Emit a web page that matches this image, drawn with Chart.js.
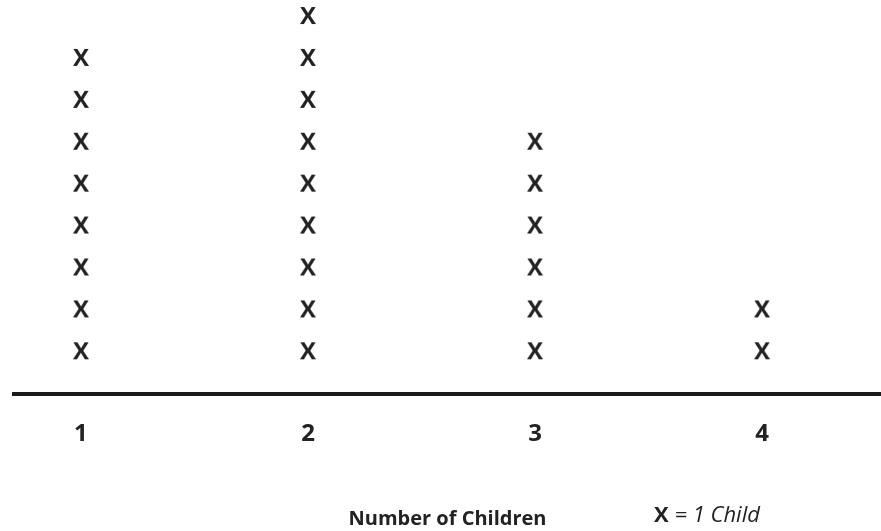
<!DOCTYPE html>
<html>
<head>
<meta charset="utf-8">
<script src="https://cdn.jsdelivr.net/npm/chart.js@4/dist/chart.umd.min.js"></script>
<style>
  html, body { margin: 0; padding: 0; background: #fff; }
  #wrap { width: 881px; height: 531px; position: relative; }
</style>
</head>
<body>
<div id="wrap"><canvas id="chart"></canvas></div>
<script>
// number of children per family (x) and how many families had that many
const categories = [1, 2, 3, 4]
const counts = [8, 9, 6, 2]
const xTicks = [1, 2, 3, 4]
const axisTitle = 'Number of Children'
const keyMark = 'X'
const keyText = '= 1 Child'

const ink = '#222'

// one point per child, stacked up the column
const points = []
categories.forEach((c, i) => {
    for (let n = 1; n <= counts[i]; n++) points.push({x: c, y: n})
})

// the "X" glyph used as point style
function makeMark() {
    const c = document.createElement('canvas')
    c.width = 20
    c.height = 26
    const ctx = c.getContext('2d')
    ctx.fillStyle = ink
    ctx.font = 'bold 24px "Open Sans"'
    ctx.textAlign = 'center'
    ctx.textBaseline = 'middle'
    ctx.fillText(keyMark, 10, 13)
    return c
}

const keyPlugin = {
    id: 'key',
    afterDraw(chart) {
        const ctx = chart.ctx
        ctx.save()
        ctx.fillStyle = ink
        ctx.textBaseline = 'middle'
        ctx.font = 'bold 22px "Open Sans"'
        ctx.fillText(keyMark, 654, 516)
        const w = ctx.measureText(keyMark + ' ').width
        ctx.font = 'italic 22px "Open Sans"'
        ctx.fillText(keyText, 654 + w, 516)
        ctx.restore()
    }
}

function draw() {
    new Chart(document.getElementById('chart'), {
        type: 'scatter',
        data: {
            datasets: [{
                data: points,
                pointStyle: makeMark(),
                pointRadius: 10
            }]
        },
        options: {
            responsive: true,
            maintainAspectRatio: false,
            animation: false,
            layout: {autoPadding: false, padding: {left: 14, right: 0, top: 0, bottom: 0}},
            plugins: {
                legend: {display: false},
                tooltip: {enabled: false}
            },
            scales: {
                x: {
                    type: 'linear',
                    min: 0.705,
                    max: 4.524,
                    afterBuildTicks: s => { s.ticks = xTicks.map(v => ({value: v})) },
                    grid: {display: false, drawTicks: false, tickLength: 0},
                    border: {display: true, width: 4, color: '#1a1a1a'},
                    ticks: {
                        padding: 26,
                        color: ink,
                        font: {family: 'Open Sans', size: 24, weight: 'bold'}
                    },
                    title: {
                        display: true,
                        text: axisTitle,
                        color: ink,
                        font: {family: 'Open Sans', size: 20, weight: 'bold'},
                        padding: {top: 32, bottom: 0}
                    }
                },
                y: {
                    display: false,
                    min: 0,
                    max: 9.406
                }
            }
        },
        plugins: [keyPlugin]
    })
}

if (document.fonts && document.fonts.load) {
    Promise.all([
        document.fonts.load('bold 24px "Open Sans"'),
        document.fonts.load('italic 22px "Open Sans"')
    ]).then(draw, draw)
} else {
    draw()
}
</script>
</body>
</html>
